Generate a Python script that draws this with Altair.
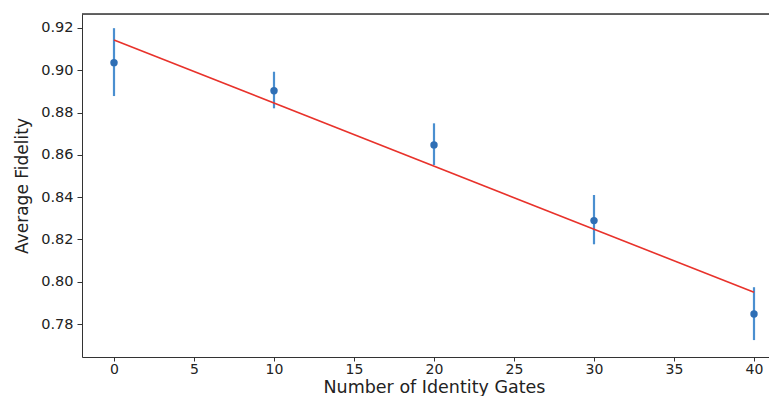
import altair as alt
import pandas as pd

# Data
gates = [0, 10, 20, 30, 40]
fidelity = [0.9036, 0.8903, 0.8647, 0.8289, 0.7847]
err_low = [0.8878, 0.8820, 0.8552, 0.8177, 0.7724]
err_high = [0.9199, 0.8993, 0.8749, 0.8410, 0.7974]
fit_x = [0, 40]
fit_y = [0.9143, 0.7950]
x_ticks = [0, 5, 10, 15, 20, 25, 30, 35, 40]
y_ticks = [0.78, 0.80, 0.82, 0.84, 0.86, 0.88, 0.90, 0.92]

pts = pd.DataFrame({"x": gates, "y": fidelity, "lo": err_low, "hi": err_high})
fit = pd.DataFrame({"x": fit_x, "y": fit_y})

W, H = 687, 343
X_DOM = [-2, -2 + W / 16.0]
Y_DOM = [0.7644, 0.9266]
FONT = "DejaVu Sans"
AX = "#333333"

xs = alt.Scale(domain=X_DOM, nice=False, zero=False)
ys = alt.Scale(domain=Y_DOM, nice=False, zero=False)

x_axis = alt.Axis(values=x_ticks, title="Number of Identity Gates", grid=False,
                  labelFontSize=14, titleFontSize=17.5, titleFont=FONT, labelFont=FONT,
                  titleFontWeight="normal", labelColor="#222", titleColor="#222",
                  domainColor=AX, tickColor=AX, tickSize=4, labelPadding=1,
                  titleX=352, titleY=35, titleBaseline="alphabetic")
y_axis = alt.Axis(values=y_ticks, format=".2f", title="Average Fidelity", grid=False,
                  labelFontSize=14.5, titleFontSize=17, titleFont=FONT, labelFont=FONT,
                  titleFontWeight="normal", labelColor="#222", titleColor="#222",
                  domainColor=AX, tickColor=AX, tickSize=5, labelPadding=4,
                  titlePadding=9)

errbars = alt.Chart(pts).mark_rule(color="#4a8fd0", strokeWidth=2.2).encode(
    x=alt.X("x:Q", scale=xs, axis=x_axis),
    y=alt.Y("lo:Q", scale=ys, axis=y_axis),
    y2="hi:Q",
)
points = alt.Chart(pts).mark_circle(color="#2f6fb5", size=55, opacity=1).encode(
    x=alt.X("x:Q", scale=xs),
    y=alt.Y("y:Q", scale=ys),
)
line = alt.Chart(fit).mark_line(color="#e8322b", strokeWidth=1.6).encode(
    x=alt.X("x:Q", scale=xs),
    y=alt.Y("y:Q", scale=ys),
)
top_spine = alt.Chart(fit).mark_rule(color=AX, strokeWidth=1).encode(
    x=alt.value(0), x2=alt.value(W), y=alt.value(0)
)

chart = alt.layer(errbars, line, points, top_spine).properties(
    width=W, height=H,
    autosize=alt.AutoSizeParams(type="none"),
    padding={"left": 74, "top": 6, "right": 0, "bottom": 39},
).configure_view(stroke=None).configure(background="white")

chart.save("out.html", embed_options={"renderer": "svg", "actions": False})
